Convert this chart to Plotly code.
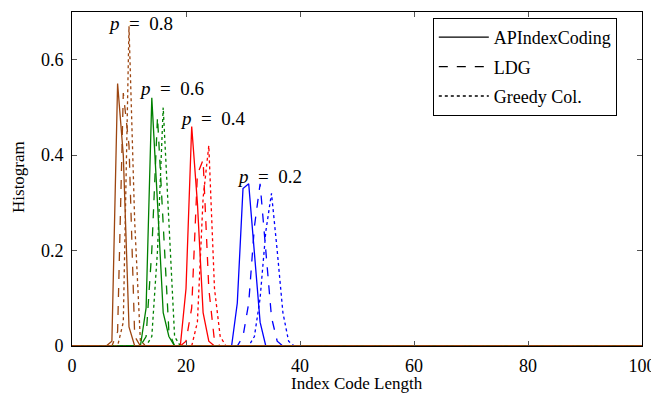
import plotly.graph_objects as go

# Index code length (x) and histogram values for each p / method
x_b_s = [0, 6, 7, 8, 9, 10, 11, 100]
y_b_s = [0, 0, 0.01, 0.55, 0.40, 0.04, 0, 0]
x_b_d = [0, 7, 8, 9, 10, 11, 12, 100]
y_b_d = [0, 0, 0.03, 0.53, 0.42, 0.02, 0, 0]
x_b_o = [0, 8, 9, 10, 11, 12, 13, 100]
y_b_o = [0, 0, 0.05, 0.67, 0.26, 0.01, 0, 0]

x_g_s = [0, 12, 13, 14, 15, 16, 17, 18, 100]
y_g_s = [0, 0, 0.08, 0.52, 0.30, 0.07, 0.02, 0, 0]
x_g_d = [0, 12, 13, 14, 15, 16, 17, 18, 100]
y_g_d = [0, 0, 0.02, 0.20, 0.48, 0.25, 0.03, 0, 0]
x_g_o = [0, 13, 14, 15, 16, 17, 18, 19, 100]
y_g_o = [0, 0, 0.02, 0.20, 0.50, 0.25, 0.02, 0, 0]

x_r_s = [0, 19, 20, 21, 22, 23, 24, 25, 100]
y_r_s = [0, 0, 0.12, 0.46, 0.30, 0.07, 0.01, 0, 0]
x_r_d = [0, 19, 20, 21, 22, 23, 24, 25, 26, 100]
y_r_d = [0, 0, 0.01, 0.08, 0.36, 0.39, 0.12, 0.01, 0, 0]
x_r_o = [0, 21, 22, 23, 24, 25, 26, 27, 100]
y_r_o = [0, 0, 0.05, 0.31, 0.42, 0.12, 0.02, 0, 0]

x_u_s = [0, 28, 29, 30, 31, 32, 33, 34, 100]
y_u_s = [0, 0, 0.09, 0.33, 0.34, 0.20, 0.05, 0, 0]
x_u_d = [0, 29, 30, 31, 32, 33, 34, 35, 36, 37, 100]
y_u_d = [0, 0, 0.02, 0.09, 0.25, 0.34, 0.20, 0.06, 0.01, 0, 0]
x_u_o = [0, 31, 32, 33, 34, 35, 36, 37, 38, 39, 100]
y_u_o = [0, 0, 0.02, 0.10, 0.24, 0.32, 0.20, 0.07, 0.01, 0, 0]

legend_names = ["APIndexCoding", "LDG", "Greedy Col."]
p_labels = ["0.8", "0.6", "0.4", "0.2"]
label_x = [12.1, 17.4, 24.6, 34.6]
label_y = [0.675, 0.539, 0.476, 0.356]

x_ticks = [0, 20, 40, 60, 80, 100]
y_ticks = [0, 0.2, 0.4, 0.6]

BLUE = "#0000ff"
RED = "#ff0000"
GREEN = "#008000"
BROWN = "#9c4510"
SERIF = "Liberation Serif, DejaVu Serif, serif"

fig = go.Figure()

# legend entries (black)
for i, (name, dash) in enumerate(zip(legend_names, ["solid", "dash", "dot"])):
    fig.add_trace(go.Scatter(x=[None], y=[None], mode="lines", name=name,
                             legendgroup="g%d" % i,
                             line=dict(color="black", dash=dash, width=1.3)))

groups = [
    (BLUE, [(x_u_s, y_u_s), (x_u_d, y_u_d), (x_u_o, y_u_o)]),
    (RED, [(x_r_s, y_r_s), (x_r_d, y_r_d), (x_r_o, y_r_o)]),
    (GREEN, [(x_g_s, y_g_s), (x_g_d, y_g_d), (x_g_o, y_g_o)]),
    (BROWN, [(x_b_s, y_b_s), (x_b_d, y_b_d), (x_b_o, y_b_o)]),
]
for color, series in groups:
    for (xs, ys), dash in zip(series, ["solid", "dash", "dot"]):
        fig.add_trace(go.Scatter(x=xs, y=ys, mode="lines", showlegend=False,
                                 line=dict(color=color, dash=dash, width=1.3)))

for lab, lx, ly in zip(p_labels, label_x, label_y):
    fig.add_annotation(x=lx, y=ly, text="<i>p</i>\u2002=\u2002" + lab, showarrow=False,
                       font=dict(family=SERIF, size=19, color="black"))

# axis titles
fig.add_annotation(xref="paper", yref="paper", x=0.5, y=-0.111, text="Index Code Length",
                   showarrow=False, xanchor="center", yanchor="middle",
                   font=dict(family=SERIF, size=17, color="black"))
fig.add_annotation(xref="paper", yref="paper", x=-0.093, y=0.506, text="Histogram",
                   showarrow=False, xanchor="center", yanchor="middle", textangle=-90,
                   font=dict(family=SERIF, size=17, color="black"))

axis_common = dict(showgrid=False, zeroline=False, showline=True, linecolor="black",
                   linewidth=1, mirror="ticks", ticks="inside", ticklen=5,
                   tickcolor="#555", tickwidth=0.8, automargin=False,
                   tickfont=dict(family=SERIF, size=18, color="black"))

# the page places the figure 8px from the top-left corner, so the figure is
# sized to end exactly at the window edge
fig.update_layout(
    width=651, height=386,
    margin=dict(l=64, r=17, t=4, b=48),
    plot_bgcolor="white", paper_bgcolor="white",
    xaxis=dict(range=[0, 100], tickvals=x_ticks, ticktext=[str(v) for v in x_ticks],
               ticklabelstandoff=3, **axis_common),
    yaxis=dict(range=[0, 0.7], tickvals=y_ticks, ticktext=["0", "0.2", "0.4", "0.6"],
               ticklabelstandoff=4, **axis_common),
    legend=dict(x=0.633, y=0.982, xanchor="left", yanchor="top",
                bordercolor="black", borderwidth=1, bgcolor="white",
                font=dict(family=SERIF, size=18, color="black"),
                tracegroupgap=3, itemwidth=50),
    showlegend=True,
)

fig.write_html("out.html")
